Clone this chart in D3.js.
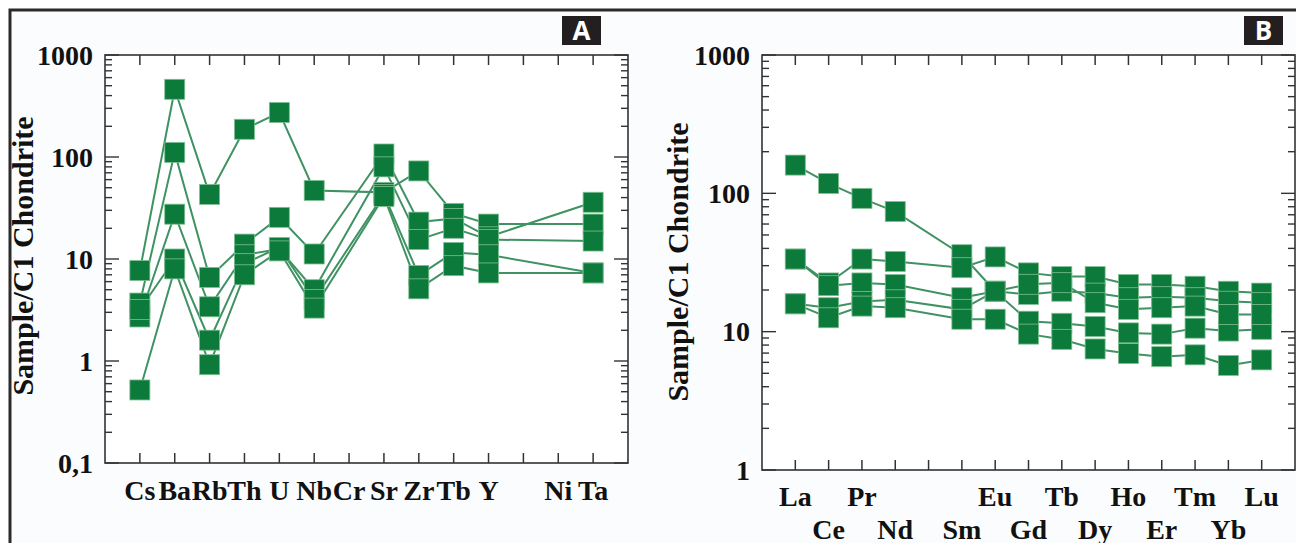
<!DOCTYPE html>
<html><head><meta charset="utf-8">
<script src="https://cdn.jsdelivr.net/npm/d3@7"></script>
<style>
html,body{margin:0;padding:0;background:#fff;}
svg{display:block;}
</style></head>
<body>
<svg id="chart" width="1296" height="543"></svg>
<script>
// ---------- DATA ----------
const elementsA = ["Cs","Ba","Rb","Th","U","Nb","Cr","Sr","Zr","Tb","Y","","Ni","Ta"];
const seriesA1 = [7.7, 461, 43, 187, 273, 47, null, 45, 73, 28, 22, null, null, 22];
const seriesA2 = [3.7, 111, 6.6, 14, 25.6, 11.2, null, 107, 23, 25, 16.5, null, null, 36];
const seriesA3 = [2.7, 27.5, 3.4, 11, 12.5, 5, null, 80, 15.5, 20, 15.5, null, null, 15];
const seriesA4 = [3.2, 10, 1.6, 9, 13, 4, null, 43, 6.9, 11.6, 11, null, null, 7.3];
const seriesA5 = [0.52, 8, 0.92, 7, 12, 3.3, null, 41, 5.1, 8.6, 7.3, null, null, 7.3];
const yTicksA = [1000, 100, 10, 1, 0.1];
const yTickLabelsA = ["1000", "100", "10", "1", "0,1"];

const elementsB = ["La","Ce","Pr","Nd","","Sm","Eu","Gd","Tb","Dy","Ho","Er","Tm","Yb","Lu"];
const seriesB1 = [160, 118, 92, 73.8, null, 36, 19.6, 11.9, 11.5, 10.9, 9.8, 9.6, 10.6, 10.1, 10.4];
const seriesB2 = [33.5, 22.5, 33.5, 32.2, null, 29, 34.7, 26.6, 25, 25, 21.9, 21.9, 21.3, 19.6, 19];
const seriesB3 = [33.5, 21.5, 22.5, 21.9, null, 17.6, 19.6, 18.6, 19.6, 19, 17.6, 17.9, 17.6, 16.6, 16.2];
const seriesB4 = [15.9, 14.9, 16.5, 17, null, 14.5, 19.6, 22, 22.6, 16.2, 14.5, 14.9, 15.3, 13.3, 13.3];
const seriesB5 = [15.9, 12.6, 15.3, 14.9, null, 12.3, 12.3, 9.6, 8.8, 7.5, 6.95, 6.6, 6.8, 5.7, 6.25];
const yTicksB = [1000, 100, 10, 1];
const yTickLabelsB = ["1000", "100", "10", "1"];

const yTitle = "Sample/C1 Chondrite";

// ---------- STYLE ----------
const markerFill = "#0b7a3b", markerStroke = "#7fbf92", lineColor = "#3f9262";
const frameColor = "#333";
const serif = "'Liberation Serif','Times New Roman',serif";

const svg = d3.select("#chart");
svg.append("rect").attr("x",0).attr("y",0).attr("width",1296).attr("height",543).attr("fill","#ffffff");
svg.append("rect").attr("x",10).attr("y",10).attr("width",1290).attr("height",540).attr("fill","#fbfcfd");
svg.append("path").attr("d","M10,543 L10,10 L1296,10").attr("fill","none").attr("stroke","#2b2b2b").attr("stroke-width",3);

function panel(cfg){
  const g = svg.append("g");
  const x = d3.scaleLinear().domain([0, cfg.elements.length + 1]).range([cfg.left, cfg.right]);
  const y = d3.scaleLog().domain(cfg.yDomain).range([cfg.bottom, cfg.top]);

  g.append("rect").attr("x",cfg.left).attr("y",cfg.top)
    .attr("width",cfg.right-cfg.left).attr("height",cfg.bottom-cfg.top)
    .attr("fill","#fff").attr("stroke",frameColor).attr("stroke-width",1.6);

  const idx = d3.range(1, cfg.elements.length + 1);
  g.selectAll(".xt").data(idx).join("line")
    .attr("x1",d=>x(d)).attr("x2",d=>x(d)).attr("y1",cfg.bottom).attr("y2",cfg.bottom-10)
    .attr("stroke",frameColor).attr("stroke-width",1.5);
  g.selectAll(".xtt").data(idx).join("line")
    .attr("x1",d=>x(d)).attr("x2",d=>x(d)).attr("y1",cfg.top).attr("y2",cfg.top+10)
    .attr("stroke",frameColor).attr("stroke-width",1.5);

  const [lo, hi] = cfg.yDomain;
  const ticks = [];
  for (let e = Math.round(Math.log10(lo)); e < Math.round(Math.log10(hi)); e++) {
    for (let m = 1; m <= 9; m++) ticks.push({v: m*Math.pow(10,e), major: m===1});
  }
  ticks.push({v: hi, major: true});
  g.selectAll(".ytl").data(ticks).join("line")
    .attr("x1",cfg.left).attr("x2",d=>cfg.left+(d.major?14:7))
    .attr("y1",d=>y(d.v)).attr("y2",d=>y(d.v))
    .attr("stroke",frameColor).attr("stroke-width",1.4);
  g.selectAll(".ytr").data(ticks).join("line")
    .attr("x1",cfg.right).attr("x2",d=>cfg.right-(d.major?14:7))
    .attr("y1",d=>y(d.v)).attr("y2",d=>y(d.v))
    .attr("stroke",frameColor).attr("stroke-width",1.4);

  g.selectAll(".ylab").data(cfg.yTicks).join("text")
    .attr("x",cfg.left-12).attr("y",d=>y(d)).attr("dy","0.35em")
    .attr("text-anchor","end").attr("font-family",serif).attr("font-weight","bold")
    .attr("font-size",28).attr("fill","#111")
    .text((d,i)=>cfg.yTickLabels[i]);

  g.append("text")
    .attr("transform",`translate(${cfg.titleX},${cfg.titleY}) rotate(-90)`)
    .attr("text-anchor","middle").attr("dy","0.35em")
    .attr("font-family",serif).attr("font-weight","bold").attr("font-size",30).attr("fill","#111")
    .text(yTitle);

  g.selectAll(".xlab").data(cfg.elements).join("text")
    .attr("x",(d,i)=>x(i+1))
    .attr("y",(d,i)=>cfg.labelY(i))
    .attr("text-anchor","middle").attr("font-family",serif).attr("font-weight","bold")
    .attr("font-size",28).attr("fill","#111")
    .text(d=>d);

  const line = d3.line().x(d=>x(d.i+1)).y(d=>y(d.v));
  cfg.series.forEach(s=>{
    const pts = s.map((v,i)=>({i,v})).filter(d=>d.v!=null);
    g.append("path").attr("d",line(pts)).attr("fill","none")
      .attr("stroke",lineColor).attr("stroke-width",2);
  });
  const ms = 20;
  cfg.series.forEach(s=>{
    const pts = s.map((v,i)=>({i,v})).filter(d=>d.v!=null);
    g.selectAll(null).data(pts).join("rect")
      .attr("x",d=>x(d.i+1)-ms/2).attr("y",d=>y(d.v)-ms/2)
      .attr("width",ms).attr("height",ms)
      .attr("fill",markerFill).attr("stroke",markerStroke).attr("stroke-width",0.8);
  });

  g.append("rect").attr("x",cfg.boxX).attr("y",16).attr("width",39).attr("height",29).attr("fill","#231f20");
  g.append("text").attr("x",cfg.boxX+19.5).attr("y",31).attr("dy","0.36em")
    .attr("text-anchor","middle").attr("font-family","'Open Sans',sans-serif").attr("font-weight","bold")
    .attr("font-size",26).attr("fill","#fff").text(cfg.letter);
}

panel({
  elements: elementsA, series: [seriesA1,seriesA2,seriesA3,seriesA4,seriesA5],
  left:105, right:628, top:55, bottom:463, yDomain:[0.1,1000],
  yTicks: yTicksA, yTickLabels: yTickLabelsA, titleX: 22, titleY: 256,
  labelY: i=>500, letter:"A", boxX:562
});
panel({
  elements: elementsB, series: [seriesB1,seriesB2,seriesB3,seriesB4,seriesB5],
  left:762, right:1295, top:55, bottom:470, yDomain:[1,1000],
  yTicks: yTicksB, yTickLabels: yTickLabelsB, titleX: 677, titleY: 262,
  labelY: i=> (i%2===0 ? 506 : 539), letter:"B", boxX:1244
});
</script>
</body></html>
